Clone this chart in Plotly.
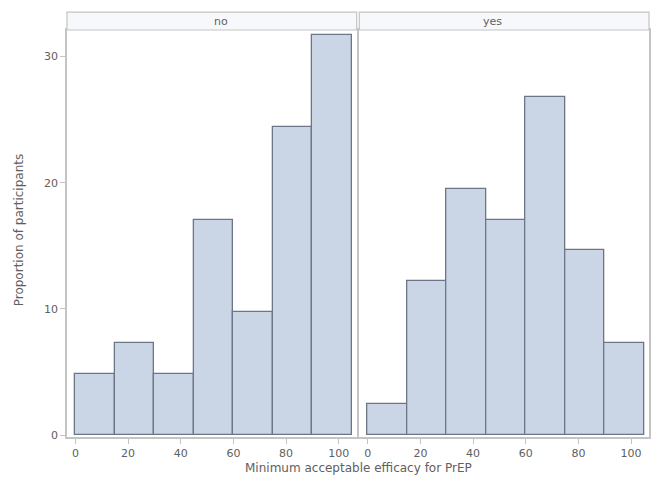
import plotly.graph_objects as go
from plotly.subplots import make_subplots

# bins of minimum acceptable efficacy (%)
bin_starts = [0, 15, 30, 45, 60, 75, 90]
bin_width = 15
panels = ['no', 'yes']

pct_no = [4.88, 7.32, 4.88, 17.07, 9.76, 24.39, 31.71]
pct_yes = [2.44, 12.20, 19.51, 17.07, 26.83, 14.63, 7.32]

x_ticks = [0, 20, 40, 60, 80, 100]
y_ticks = [0, 10, 20, 30]

bar_fill = '#cad5e6'
bar_line = '#6d7686'
frame = '#c4c4c4'
txt = '#606060'

centers = [s + bin_width / 2 for s in bin_starts]

fig = make_subplots(rows=1, cols=2, shared_yaxes=True, horizontal_spacing=0.0045)

for i, vals in enumerate([pct_no, pct_yes]):
    fig.add_trace(go.Bar(
        x=centers, y=vals, width=bin_width,
        marker=dict(color=bar_fill, line=dict(color=bar_line, width=1.3)),
        showlegend=False
    ), row=1, col=i + 1)

fig.update_xaxes(
    range=[-3.2, 106.8], tickvals=x_ticks, ticks='outside', ticklen=5,
    tickcolor=frame, showgrid=False, zeroline=False, automargin=False,
    showline=True, linecolor=frame, linewidth=1.5, mirror=True,
    tickfont=dict(size=11, color=txt)
)
fig.update_yaxes(
    range=[-0.15, 32.1], tickvals=y_ticks, ticks='outside', ticklen=5,
    tickcolor=frame, showgrid=False, zeroline=False, automargin=False,
    showline=True, linecolor=frame, linewidth=1.5, mirror=True,
    tickfont=dict(size=11, color=txt)
)
fig.update_yaxes(ticks='', row=1, col=2)

# strip headers
doms = [fig.layout.xaxis.domain, fig.layout.xaxis2.domain]
for dom, lab in zip(doms, panels):
    fig.add_shape(type='rect', xref='paper', yref='paper',
                  x0=dom[0], x1=dom[1], y0=1.0, y1=1.044,
                  fillcolor='#f7f8fb', line=dict(color=frame, width=1.2))
    fig.add_annotation(x=(dom[0] + dom[1]) / 2, y=1.022, xref='paper', yref='paper',
                       yanchor='middle', text=lab, showarrow=False,
                       font=dict(size=11, color=txt))

fig.add_annotation(x=0.5, y=-0.076, xref='paper', yref='paper', yanchor='middle',
                   text='Minimum acceptable efficacy for PrEP', showarrow=False,
                   font=dict(size=12, color=txt))
fig.add_annotation(x=-0.081, y=0.51, xref='paper', yref='paper', textangle=-90,
                   xanchor='center', yanchor='middle',
                   text='Proportion of participants', showarrow=False,
                   font=dict(size=12, color=txt))

# page has an 8px body margin, so the figure is sized to fit inside the window
fig.update_layout(
    width=648, height=483,
    margin=dict(l=59, r=7, t=22, b=54),
    plot_bgcolor='white', paper_bgcolor='white',
    bargap=0,
    font=dict(family='DejaVu Sans', size=11, color=txt)
)

fig.write_html("out.html")
